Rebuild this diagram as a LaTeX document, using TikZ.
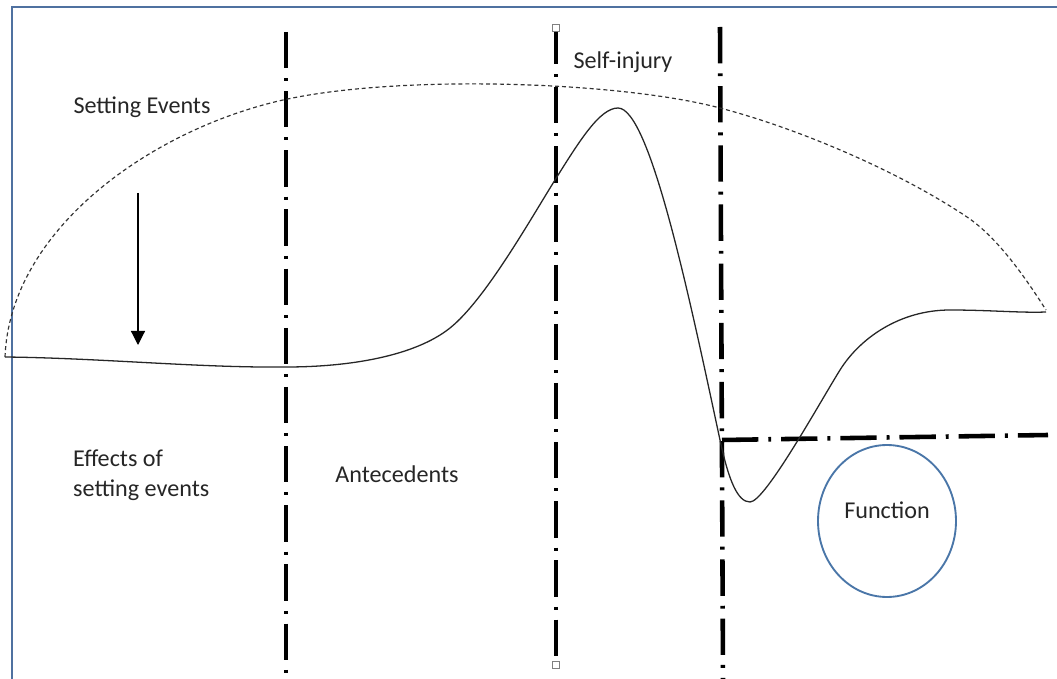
\documentclass[tikz,border=0pt]{standalone}
\usepackage{fontspec}
\setmainfont{Carlito}
\usepackage{tikz}
\usetikzlibrary{arrows.meta}

\definecolor{frameblue}{RGB}{79,113,160}
\definecolor{circblue}{RGB}{74,118,168}

\tikzset{
  phase/.style={line width=3.9pt, dash pattern=on 31pt off 8.5pt on 2.5pt off 8.5pt},
  setting/.style={line width=1pt, dash pattern=on 3.4pt off 2.5pt, draw=black!80},
  course/.style={line width=1.1pt, draw=black!85},
  handle/.style={draw=gray, fill=white, line width=0.6pt, minimum size=6pt, inner sep=0pt},
  lbl/.style={font=\fontsize{20.6}{25.6}\selectfont, text=black!85, inner sep=0pt}
}

\begin{document}
\begin{tikzpicture}[x=0.03cm, y=-0.03cm]

\useasboundingbox (0,0) rectangle (1057,679);

% frame
\draw[frameblue, line width=1.8pt] (12,679) -- (12,7) -- (1057,7);

% phase borders
\draw[phase] (286,32) -- (286,679);
\draw[phase] (556,28) -- (556,665);
\draw[phase] (720,27) -- (723,679);
\draw[phase] (722,440) -- (1048,435);

% handles on the middle border
\node[handle] (htop) at (556,28) {};
\node[handle] (hbot) at (556,665) {};

% setting events, dashed arc
\draw[setting] (5,357) .. controls (10,230) and (150,130) .. (283,100)
  .. controls (400,74) and (620,81.5) .. (720,108)
  .. controls (800,129) and (900,172) .. (967,217)
  .. controls (1000,239) and (1030,285) .. (1046,310);

% course of behaviour
\draw[course] (5,357) .. controls (100,358) and (200,368) .. (286,367)
  .. controls (350,367) and (415,356) .. (450,328)
  .. controls (485,300) and (530,220) .. (555,180)
  .. controls (580,140) and (600,108) .. (618,108)
  .. controls (650,108) and (690,300) .. (720,440)
  .. controls (729,482) and (738,502) .. (750,502)
  .. controls (765,502) and (820,402) .. (840,370)
  .. controls (860,338) and (900,310) .. (950,310)
  .. controls (990,310) and (1020,313) .. (1046,312);

% effect arrow
\coordinate (arrtop) at (138,193);
\coordinate (arrtip) at (138,345);
\draw[line width=1pt, -{Triangle[width=12pt, length=12pt]}] (arrtop) -- (arrtip);

% function circle
\draw[circblue, line width=1.6pt] (887,521) ellipse (69 and 76);

\node[lbl] (setev) at (142,107) {Setting Events};
\node[lbl] (selfinj) at (623,62) {Self-injury};
\node[lbl, anchor=west, align=left] (effects) at (73,475) {Effects of\\setting events};
\node[lbl] (antec) at (397,474) {Antecedents};
\node[lbl] (func) at (887,510) {Function};

\end{tikzpicture}
\end{document}
